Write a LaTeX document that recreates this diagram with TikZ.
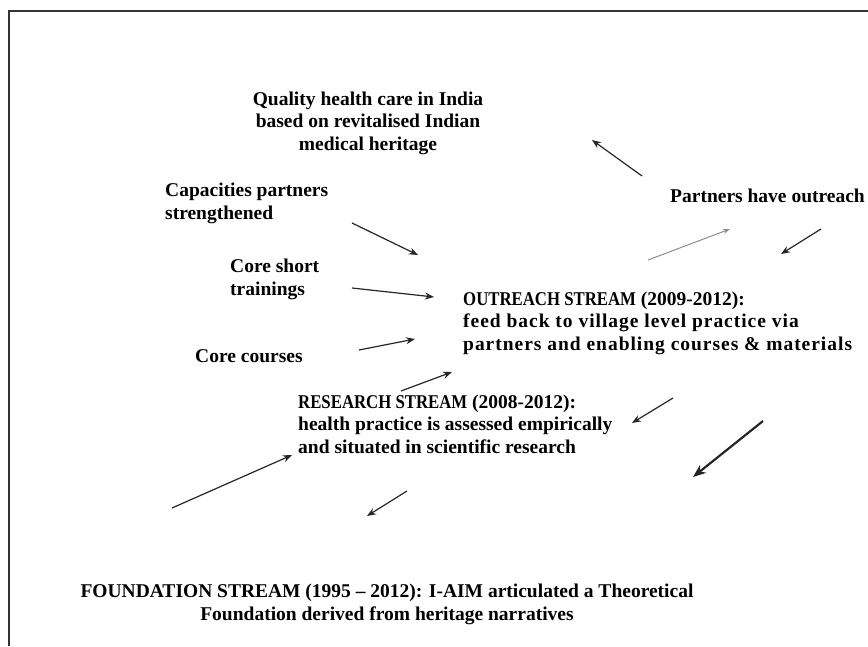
\documentclass[tikz,border=0pt]{standalone}
\usepackage{fontspec}
\setmainfont{Liberation Serif}
\newfontfamily\narrowcaps{Liberation Serif}[FakeStretch=0.86]
\newfontfamily\widefont{Liberation Serif}[LetterSpace=5]
\usepackage{tikz}
\usetikzlibrary{arrows.meta}
\usetikzlibrary{shapes,arrows}
\tikzstyle{arrow} = [line width=1.2pt,-{Stealth[length=9pt,width=7pt]},black!85]
\tikzstyle{txt} = [inner sep=0pt,font=\fontsize{19.5}{22.5}\selectfont\bfseries]

\begin{document}
\begin{tikzpicture}[x=1pt, y=-1pt, >=Stealth]
% 画布与边框
\useasboundingbox (0,0) rectangle (868,646);
\draw[line width=1.8pt, black!80] (9,646) -- (9,11) -- (868,11);

% 文字 (多行节点的 base 在最后一行)
\node[txt, anchor=base, align=center] (goal) at (368,150) {Quality health care in India\\based on revitalised Indian\\medical heritage};
\node[txt, anchor=base west, align=left] (capacity) at (165,219) {Capacities partners\\strengthened};
\node[txt, anchor=base west] (partners) at (670,202) {Partners have outreach};
\node[txt, anchor=base west, align=left] (short) at (230,295) {Core short\\trainings};
\node[txt, anchor=base west] (courses) at (195,362) {Core courses};
\node[txt, anchor=base west, align=left] (outreach) at (463,350) {{\narrowcaps OUTREACH STREAM} (2009-2012):\\{\widefont feed back to village level practice via}\\{\widefont partners and enabling courses \& materials}};
\node[txt, anchor=base west, align=left] (research) at (298,453) {{\narrowcaps RESEARCH STREAM} (2008-2012):\\health practice is assessed empirically\\and situated in scientific research};
\node[txt, anchor=base, align=center] (foundation) at (387,620) {FOUNDATION STREAM (1995 -- 2012): I-AIM articulated a Theoretical\\Foundation derived from heritage narratives};

% 箭头端点
\coordinate (s1) at (642,176);  \coordinate (e1) at (592,140);
\coordinate (s2) at (352,223);  \coordinate (e2) at (418,255);
\coordinate (s3) at (352,288);  \coordinate (e3) at (434,297);
\coordinate (s4) at (359,350);  \coordinate (e4) at (415,339);
\coordinate (s5) at (401,391);  \coordinate (e5) at (452,372);
\coordinate (s6) at (648,260);  \coordinate (e6) at (730,229);
\coordinate (s7) at (821,229);  \coordinate (e7) at (781,254);
\coordinate (s8) at (673,398);  \coordinate (e8) at (632,423);
\coordinate (s9) at (763,421);  \coordinate (e9) at (693,477);
\coordinate (s10) at (172,508); \coordinate (e10) at (292,455);
\coordinate (s11) at (407,491); \coordinate (e11) at (367,516);

% 箭头
\foreach \i in {1,2,3,4,5,7,8,10,11}
  \draw[arrow] (s\i) -- (e\i);
\draw[line width=1pt, black!45, -{Stealth[length=7pt,width=5pt]}] (s6) -- (e6); % 浅色箭头
\draw[arrow, line width=2.2pt, -{Stealth[length=13pt,width=10pt]}] (s9) -- (e9); % 粗箭头

\end{tikzpicture}
\end{document}
